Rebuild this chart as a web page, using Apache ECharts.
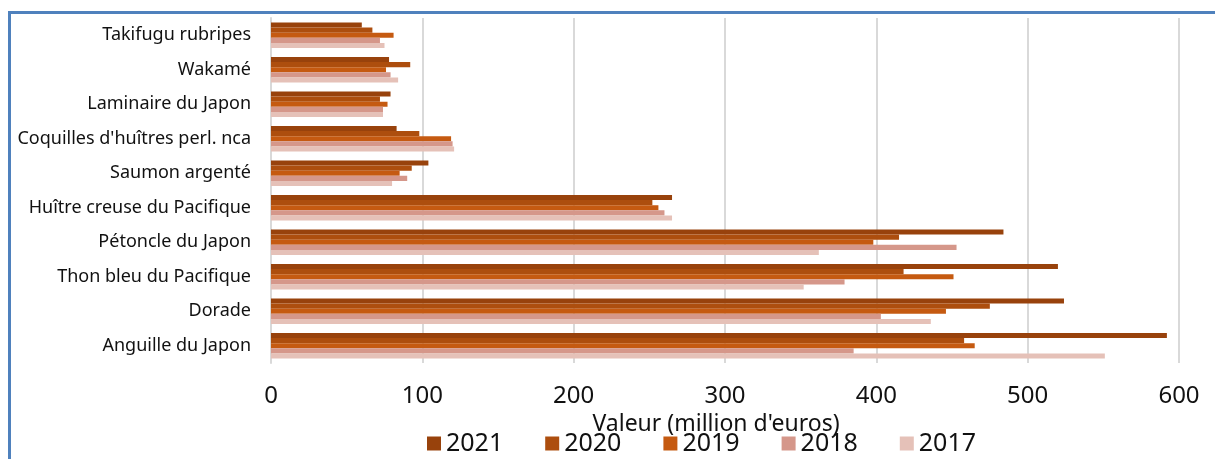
<!DOCTYPE html>
<html>
<head>
<meta charset="utf-8">
<script src="https://cdn.jsdelivr.net/npm/echarts@6/dist/echarts.min.js"></script>
<style>
    html, body { margin: 0; padding: 0; background: #fff; }
    #chart { width: 1215px; height: 459px; }
    .frame {
        position: absolute; left: 8px; top: 11px; width: 1300px; height: 600px;
        border-left: 3px solid #4f81bd; border-top: 3px solid #4f81bd;
        pointer-events: none;
    }
</style>
</head>
<body>
<div id="chart"></div>
<div class="frame"></div>
<script>
    // catégories (de haut en bas)
    var categories = ['Takifugu rubripes', 'Wakamé', 'Laminaire du Japon', "Coquilles d'huîtres perl. nca",
        'Saumon argenté', 'Huître creuse du Pacifique', 'Pétoncle du Japon', 'Thon bleu du Pacifique',
        'Dorade', 'Anguille du Japon'];

    var years = ['2021', '2020', '2019', '2018', '2017'];

    var v2021 = [60, 78, 79, 83, 104, 265, 484, 520, 524, 592];
    var v2020 = [67, 92, 72, 98, 93, 252, 415, 418, 475, 458];
    var v2019 = [81, 76, 77, 119, 85, 256, 398, 451, 446, 465];
    var v2018 = [72, 79, 74, 120, 90, 260, 453, 379, 403, 385];
    var v2017 = [75, 84, 74, 121, 80, 265, 362, 352, 436, 551];

    var xTicks = [0, 100, 200, 300, 400, 500, 600];

    var colors = ['#98420c', '#ad4e0e', '#c55a11', '#d5978a', '#e5c1b8'];
    var values = [v2021, v2020, v2019, v2018, v2017];

    var chart = echarts.init(document.getElementById('chart'));

    chart.setOption({
        animation: false,
        textStyle: { fontFamily: 'Noto Sans' },
        color: colors,
        legend: {
            data: years,
            bottom: -2,
            left: 422,
            itemWidth: 14,
            itemHeight: 14,
            itemGap: 42,
            icon: 'rect',
            textStyle: { fontSize: 25, color: '#111' }
        },
        grid: { left: 271, right: 36, top: 18, bottom: 96 },
        xAxis: {
            type: 'value',
            min: xTicks[0],
            max: xTicks[xTicks.length - 1],
            interval: 100,
            name: "Valeur (million d'euros)",
            nameLocation: 'middle',
            nameGap: 43,
            nameTextStyle: { fontSize: 23, color: '#111', padding: [0, 18, 0, 0] },
            axisLine: { show: false },
            axisTick: { show: false },
            axisLabel: { fontSize: 24, color: '#111', margin: 21 },
            splitLine: { lineStyle: { color: '#d9d9d9', width: 2 } }
        },
        yAxis: {
            type: 'category',
            data: categories,
            inverse: true,
            axisLine: { show: true, lineStyle: { color: '#d9d9d9', width: 2 } },
            axisTick: { show: false },
            axisLabel: { fontSize: 18, color: '#111', margin: 20 }
        },
        series: years.map(function (y, i) {
            return {
                name: y,
                type: 'bar',
                data: values[i],
                barGap: '0%',
                barCategoryGap: '26%',
                clip: false,
                itemStyle: { color: colors[i] }
            };
        })
    });
</script>
</body>
</html>
